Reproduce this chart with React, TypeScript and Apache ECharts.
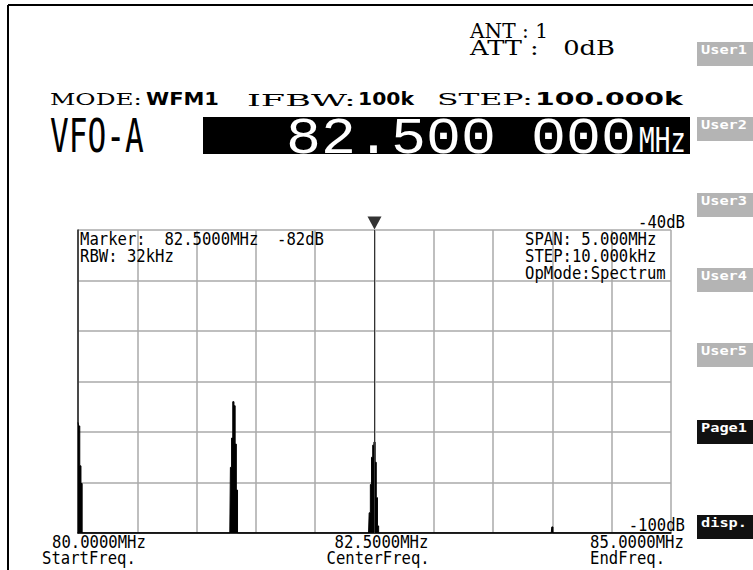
import React, { useEffect, useRef } from "react";
import * as echarts from "echarts";

// ---- data ----
const freqMHz = [
  80.0, 80.01, 80.02, 80.03, 80.04,
  81.28, 81.29, 81.3, 81.31, 81.32, 81.33, 81.34, 81.35,
  82.45, 82.46, 82.47, 82.48, 82.49, 82.5, 82.51, 82.52, 82.53, 82.54,
  83.99, 84.0, 84.01, 85.0,
];
const levelDb = [
  -78.1, -78.8, -86.7, -90.2, -100,
  -100, -87, -81.2, -74, -74.8, -82.4, -91.5, -100,
  -100, -96, -90.4, -85, -82.6, -82, -86, -93, -98.6, -100,
  -100, -98.8, -100, -100,
];
const markerFreq = 82.5;
const xTickValues = [80, 82.5, 85];
const xTickLabels = ["80.0000MHz", "82.5000MHz", "85.0000MHz"];
const xTickNames = ["StartFreq.", "CenterFreq.", "EndFreq."];
const yTickValues = [-40, -100];
const yTickLabels = ["-40dB", "-100dB"];
const markerInfo = ["Marker:  82.5000MHz  -82dB", "RBW: 32kHz"];
const statusInfo = ["SPAN: 5.000MHz", "STEP:10.000kHz", "OpMode:Spectrum"];
const buttonLabels = ["User1", "User2", "User3", "User4", "User5", "Page1", "disp."];
const buttonDark = [false, false, false, false, false, true, true];

const MONO = "DejaVu Sans Mono";
const SERIF = "DejaVu Serif";

let measureCtx: CanvasRenderingContext2D | null = null;
function measure(t: string, size: number, family: string, weight = "normal") {
  if (!measureCtx) measureCtx = document.createElement("canvas").getContext("2d");
  measureCtx!.font = `${weight} ${size}px "${family}"`;
  return measureCtx!.measureText(t).width;
}

function txt(
  t: string,
  x: number,
  cy: number,
  o: { size: number; family: string; weight?: string; color?: string; align?: string; width?: number; pitch?: number }
) {
  const weight = o.weight || "normal";
  let sx = 1;
  if (o.width) sx = o.width / measure(t, o.size, o.family, weight);
  if (o.pitch) sx = o.pitch / measure("0", o.size, o.family, weight);
  return {
    type: "text",
    x,
    y: cy,
    scaleX: sx,
    silent: true,
    z: 20,
    style: {
      text: t,
      fontSize: o.size,
      fontFamily: o.family,
      fontWeight: weight,
      fill: o.color || "#000",
      align: o.align || "left",
      verticalAlign: "middle",
    },
  };
}

export default function App() {
  const ref = useRef<HTMLDivElement>(null);
  useEffect(() => {
    if (!ref.current) return;
    const chart = echarts.init(ref.current, null, { renderer: "svg" });
    const gridLine = { color: "#aaaaaa", width: 1.5 };
    chart.setOption({
      animation: false,
      backgroundColor: "#ffffff",
      grid: { left: 78, top: 230, width: 593, height: 303, show: false },
      xAxis: {
        type: "value",
        min: 80,
        max: 85,
        interval: 0.5,
        axisLine: { show: true, onZero: false, lineStyle: { color: "#000", width: 1.5 } },
        axisTick: { show: false },
        axisLabel: { show: false },
        splitLine: { show: true, lineStyle: gridLine },
      },
      yAxis: {
        type: "value",
        min: -100,
        max: -40,
        interval: 10,
        axisLine: { show: true, onZero: false, lineStyle: { color: "#222", width: 1.5 } },
        axisTick: { show: false },
        axisLabel: { show: false },
        splitLine: { show: true, lineStyle: gridLine },
      },
      series: [
        {
          type: "line",
          data: freqMHz.map((f, i) => [f, levelDb[i]]),
          step: "middle",
          symbol: "none",
          lineStyle: { color: "#000", width: 1 },
          areaStyle: { color: "#000", opacity: 1, origin: "start" },
          z: 3,
          markLine: {
            silent: true,
            symbol: "none",
            label: { show: false },
            lineStyle: { color: "#333", width: 1, type: "solid" },
            data: [{ xAxis: markerFreq }],
          },
        },
        {
          type: "scatter",
          data: [[markerFreq, -40]],
          symbol: "triangle",
          symbolRotate: 180,
          symbolSize: [14, 13],
          symbolOffset: [0, -7],
          itemStyle: { color: "#000" },
          clip: false,
          silent: true,
          z: 5,
        },
      ],
    });

    const px = (x: number, y: number) => chart.convertToPixel({ gridIndex: 0 }, [x, y]) as number[];
    const g: any[] = [];
    // frame
    g.push({ type: "line", shape: { x1: 8, y1: 5, x2: 753, y2: 5 }, style: { stroke: "#000", lineWidth: 2 }, silent: true });
    g.push({ type: "line", shape: { x1: 8, y1: 5, x2: 8, y2: 570 }, style: { stroke: "#000", lineWidth: 2 }, silent: true });

    // ANT / ATT
    g.push(txt("ANT : 1", 470, 31, { size: 20, family: SERIF, width: 78 }));
    g.push(txt("ATT :   0dB", 470, 48, { size: 20, family: SERIF, width: 145 }));

    // mode row
    g.push(txt("MODE:", 50, 100, { size: 16, family: SERIF, width: 92 }));
    g.push(txt("WFM1", 146, 99, { size: 18, family: "DejaVu Sans", weight: "bold", width: 73 }));
    g.push(txt("IFBW:", 247, 100, { size: 16, family: SERIF, width: 109 }));
    g.push(txt("100k", 358, 99, { size: 18, family: "DejaVu Sans", weight: "bold", width: 56 }));
    g.push(txt("STEP:", 437, 100, { size: 16, family: SERIF, width: 96 }));
    g.push(txt("100.000k", 535, 99, { size: 18, family: "DejaVu Sans", weight: "bold", width: 148 }));

    // VFO row
    g.push(txt("VFO-A", 50, 136, { size: 47, family: MONO, width: 94 }));
    g.push({ type: "rect", shape: { x: 203, y: 117, width: 487, height: 37 }, style: { fill: "#000" }, silent: true, z: 10 });
    g.push(txt("82.500 000", 286, 139, { size: 51, family: "Liberation Mono", width: 350, color: "#fff" }));
    g.push(txt("MHz", 639, 140, { size: 33, family: MONO, width: 47, color: "#fff" }));

    // buttons
    const btnTops = [42, 117, 193, 268, 343, 420, 515];
    buttonLabels.forEach((b, i) => {
      g.push({
        type: "rect",
        shape: { x: 697, y: btnTops[i], width: 60, height: 24 },
        style: { fill: buttonDark[i] ? "#111" : "#b4b4b4" },
        silent: true,
        z: 10,
      });
      g.push(txt(b, 701, btnTops[i] + 7, { size: 13, family: MONO, weight: "bold", width: 46, color: "#fff" }));
    });

    // info inside plot
    const [gl, gt] = px(80, -40);
    markerInfo.forEach((t, i) => g.push(txt(t, gl + 2, gt + 9 + i * 17, { size: 17, family: MONO, pitch: 9.4 })));
    statusInfo.forEach((t, i) => g.push(txt(t, 525, gt + 9 + i * 17, { size: 17, family: MONO, pitch: 9.4 })));

    // y labels (right, above their lines)
    yTickValues.forEach((v, i) => {
      const p = px(85, v);
      g.push(txt(yTickLabels[i], p[0] + 14, p[1] - 8, { size: 17, family: MONO, pitch: 9.4, align: "right" }));
    });

    // x labels
    const labelOffsets = [-26, -40, -81];
    const nameOffsets = [-36, -48, -81];
    xTickValues.forEach((v, i) => {
      const p = px(v, -100);
      g.push(txt(xTickLabels[i], p[0] + labelOffsets[i], p[1] + 9, { size: 17, family: MONO, pitch: 9.4 }));
      g.push(txt(xTickNames[i], p[0] + nameOffsets[i], p[1] + 25, { size: 17, family: MONO, pitch: 9.4 }));
    });

    chart.setOption({ graphic: g });
    return () => chart.dispose();
  }, []);
  return (
    <div
      ref={ref}
      style={{ position: "fixed", left: 0, top: 0, width: 753, height: 570, background: "#fff" }}
    />
  );
}
